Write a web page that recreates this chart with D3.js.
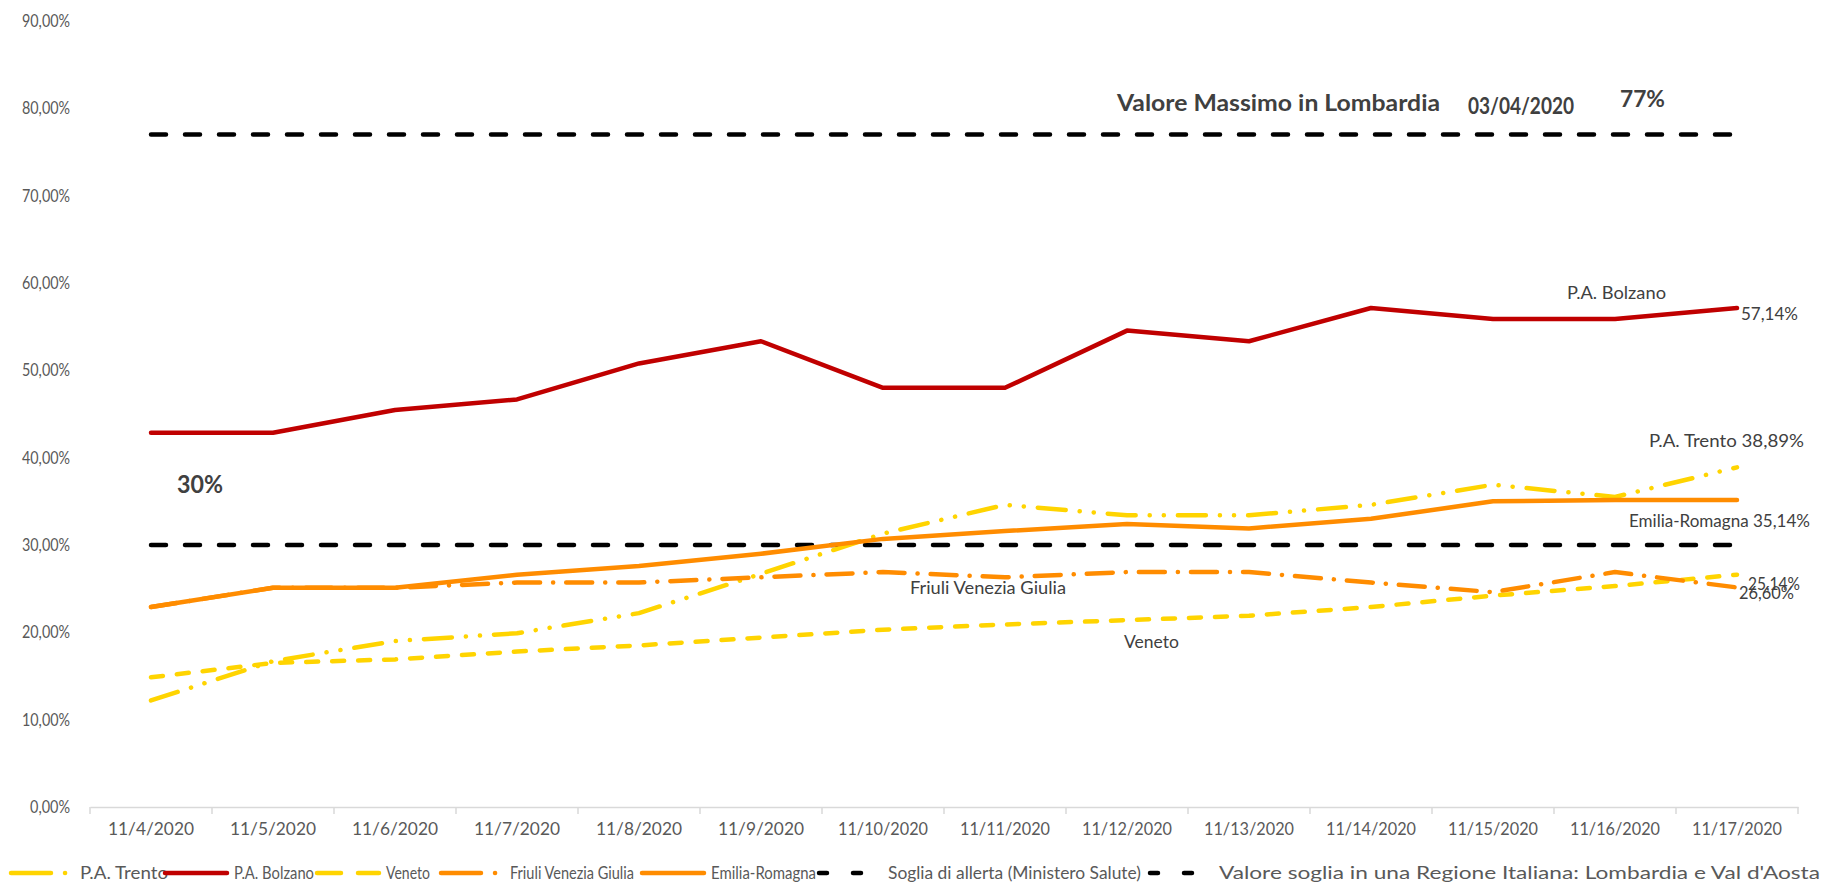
<!DOCTYPE html>
<html><head><meta charset="utf-8">
<script src="https://cdn.jsdelivr.net/npm/d3@7"></script>
<style>
html,body{margin:0;padding:0;background:#fff;}
svg{display:block;font-family:Lato,"Open Sans",sans-serif;}
</style></head>
<body>
<svg id="chart" width="1831" height="887"></svg>
<script>
// ---- data ----
const categories = ["11/4/2020","11/5/2020","11/6/2020","11/7/2020","11/8/2020","11/9/2020","11/10/2020","11/11/2020","11/12/2020","11/13/2020","11/14/2020","11/15/2020","11/16/2020","11/17/2020"];
const trento   = [12.2,16.7,19.0,19.9,22.2,26.7,31.3,34.6,33.4,33.4,34.6,36.9,35.5,38.89];
const bolzano  = [42.86,42.86,45.45,46.67,50.79,53.33,48.0,48.0,54.55,53.33,57.14,55.88,55.88,57.14];
const veneto   = [14.85,16.5,16.9,17.8,18.5,19.4,20.3,20.9,21.4,21.9,22.9,24.2,25.3,26.60];
const friuli   = [22.9,25.1,25.1,25.7,25.7,26.3,26.9,26.3,26.9,26.9,25.7,24.6,26.9,25.14];
const emilia   = [22.9,25.1,25.1,26.6,27.6,29.0,30.7,31.6,32.4,31.9,33.0,35.0,35.14,35.14];
const soglia   = categories.map(() => 30);
const lombardia= categories.map(() => 77);
const yTicks = [0,10,20,30,40,50,60,70,80,90];
const seriesNames = ["P.A. Trento","P.A. Bolzano","Veneto","Friuli Venezia Giulia","Emilia-Romagna","Soglia di allerta (Ministero Salute)","Valore soglia in una Regione Italiana: Lombardia e Val d'Aosta"];
const annoTop = ["Valore Massimo in Lombardia","03/04/2020","77%"];
const annoThreshold = "30%";

// ---- styles ----
const series = [
  {name:seriesNames[0], values:trento,   color:"#FFD400", dash:"28,14,0.1,14,0.1,14", legDash:"40,14,0.1,30"},
  {name:seriesNames[1], values:bolzano,  color:"#C00000", dash:null, legDash:null},
  {name:seriesNames[2], values:veneto,   color:"#FFD400", dash:"12,14", legDash:"24,17"},
  {name:seriesNames[3], values:friuli,   color:"#FF8C00", dash:"26,13,0.1,13", legDash:"40,14,0.1,30"},
  {name:seriesNames[4], values:emilia,   color:"#FF8C00", dash:null, legDash:null},
  {name:seriesNames[5], values:soglia,   color:"#000000", dash:"15,19", legDash:"8,26"},
  {name:seriesNames[6], values:lombardia,color:"#000000", dash:"15,19", legDash:"8,26"}
];

const svg = d3.select("#chart");
const x = d3.scaleBand().domain(categories).range([90,1798]).padding(0);
const cx = c => x(c) + x.bandwidth()/2;
const y = d3.scaleLinear().domain([0,90]).range([807,21]);
const fmt = d3.formatLocale({decimal:",",thousands:".",grouping:[3],currency:["","€"]}).format(".2%");

// y axis labels
const yAxis = d3.axisLeft(y).tickValues(yTicks).tickFormat(d => fmt(d/100)).tickSize(0).tickPadding(0);
const gy = svg.append("g").attr("transform","translate(70,0)").call(yAxis);
gy.select(".domain").remove();
gy.selectAll("text").attr("font-size",17).attr("fill","#595959").attr("font-family","Lato,sans-serif")
  .each(function(d){ d3.select(this).attr("textLength", d3.select(this).text().length*8).attr("lengthAdjust","spacingAndGlyphs"); });

// x axis
const xAxis = d3.axisBottom(x).tickSize(0).tickPadding(0);
const gx = svg.append("g").attr("transform","translate(0,807)").call(xAxis);
gx.select(".domain").attr("stroke","#D9D9D9").attr("stroke-width",1.5);
gx.selectAll(".tick text").attr("y",23).attr("dy","0.32em").attr("font-size",17).attr("fill","#595959")
  .attr("font-family","Lato,sans-serif")
  .each(function(d){ d3.select(this).attr("textLength", 86 + (d.length-9)*4).attr("lengthAdjust","spacingAndGlyphs"); });
// category boundary ticks
const bounds = categories.map(c => x(c)).concat([x(categories[categories.length-1]) + x.bandwidth()]);
gx.selectAll("line.bt").data(bounds).enter().append("line").attr("class","bt")
  .attr("x1",d=>d).attr("x2",d=>d).attr("y1",0).attr("y2",7).attr("stroke","#D9D9D9").attr("stroke-width",1.5);

// lines
const line = d3.line().x((d,i)=>cx(categories[i])).y(d=>y(d));
const drawOrder = [5,6,2,0,3,4,1];
drawOrder.forEach(k => {
  const s = series[k];
  svg.append("path").datum(s.values).attr("d",line).attr("fill","none")
    .attr("stroke",s.color).attr("stroke-width",4.5).attr("stroke-linecap","round").attr("stroke-linejoin","round")
    .attr("stroke-dasharray",s.dash);
});

// annotations
const last = categories[categories.length-1];
const xl = cx(last);
function lab(txt, xx, yy, opt={}){
  const t = svg.append("text").attr("x",xx).attr("y",yy).attr("dy","0.35em").text(txt)
    .attr("font-size",opt.size||17).attr("fill",opt.fill||"#404040").attr("font-weight",opt.bold?"bold":"normal")
    .attr("text-anchor",opt.anchor||"start");
  if(opt.len){ t.attr("textLength",opt.len).attr("lengthAdjust","spacingAndGlyphs"); }
  return t;
}
const n = categories.length-1;
lab("P.A. Bolzano", xl-170, y(bolzano[n])-15, {len:99});
lab(fmt(bolzano[n]/100), xl+4, y(bolzano[n])+6, {len:57});
lab("P.A. Trento " + fmt(trento[n]/100), xl-88, y(trento[n])-26, {len:155});
lab("Emilia-Romagna " + fmt(emilia[n]/100), xl-108, y(emilia[n])+21, {len:181});
lab(fmt(friuli[n]/100), xl+11, y(friuli[n])-3, {len:52});
lab(fmt(veneto[n]/100), xl+2, y(veneto[n])+18, {len:55});
lab("Friuli Venezia Giulia", cx(categories[7])-95, y(friuli[7])+11, {len:156});
lab("Veneto", cx(categories[8])-3, y(veneto[8])+22, {len:55});
lab(annoThreshold, cx(categories[0])+26, y(30)-60, {bold:true,size:24,len:46});
lab(annoTop[0], cx(categories[8])-10, y(77)-31, {bold:true,size:22,len:323});
lab(annoTop[1], cx(categories[11])-25, y(77)-29, {bold:true,size:23,len:106});
lab(annoTop[2], cx(categories[12])+5, y(77)-35, {bold:true,size:22,len:45});

// legend
const legX = [9,163,315,439,640,817,1148];
const legTW = [88,80,44,124,105,253,601];
const legY = 873;
const lg = svg.append("g");
series.forEach((s,i) => {
  lg.append("line").attr("x1",legX[i]+2).attr("x2",legX[i]+64).attr("y1",legY).attr("y2",legY)
    .attr("stroke",s.color).attr("stroke-width",4.5).attr("stroke-linecap","round").attr("stroke-dasharray",s.legDash);
  lg.append("text").attr("x",legX[i]+71).attr("y",legY).attr("dy","0.35em").text(s.name)
    .attr("font-size",17).attr("fill","#595959").attr("textLength",legTW[i]).attr("lengthAdjust","spacingAndGlyphs");
});
</script>
</body></html>
